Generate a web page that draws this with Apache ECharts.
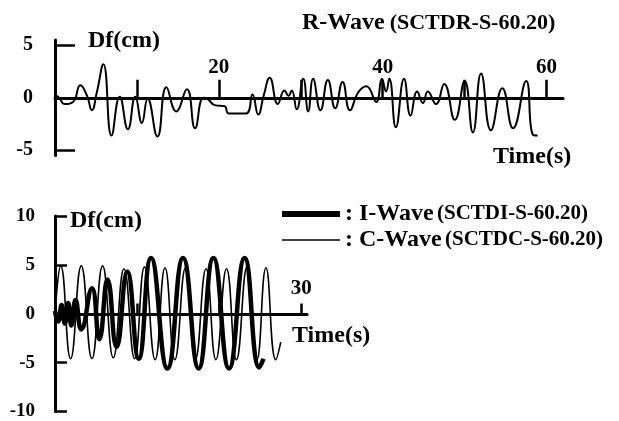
<!DOCTYPE html>
<html>
<head>
<meta charset="utf-8">
<script src="https://cdn.jsdelivr.net/npm/echarts@6/dist/echarts.min.js"></script>
<style>
  html, body { margin: 0; padding: 0; background: #fff; }
  #main { width: 619px; height: 421px; }
</style>
</head>
<body>
<div id="main"></div>
<script>
// R-Wave record (top panel), time in s and Df in cm
var rTime = [0, 0.5, 1.2, 2.2, 3.1, 3.9, 4.5, 5.1, 5.9, 6.9, 7.9, 8.9, 9.8, 10.6, 11.3, 12.5, 13.6, 14.8, 16.1, 17.1,
  18.1, 18.6, 19.5, 20.7, 21.2, 23.3, 24.1, 24.8, 25.5, 26.2, 27.2, 28.0, 28.5, 28.9, 29.5, 30.3, 30.9, 31.5, 32.4, 33.3,
  34.2, 35.1, 36.0, 37.0, 38.0, 39.2, 39.9, 40.4, 40.8, 41.6, 42.6, 43.4, 44.2, 44.9, 45.5, 46.5, 47.5, 48.8, 50.0, 51.0,
  52.0, 53.2, 54.6, 55.9, 57.5, 58.3, 58.9];
var rDf = [0.3, 0, -0.6, -0.4, 1.2, 0.2, -1.2, 0.5, 3.2, -3.6, 0.1, -3.0, 0.1, -2.4, -0.1, -3.7, 1.0, -1.3, 0.8, -2.9,
  0, -0.1, -0.7, -0.8, -1.5, -1.5, 0.3, -1.6, 0.3, 1.9, -0.6, 0.7, 0.2, 0.7, -1.1, 1.8, -1.3, 1.8, -1.2, 1.7,
  -1.0, 1.5, -1.2, 0.5, 1.1, -0.4, 1.8, 0.6, 1.8, -2.8, 1.8, -1.7, 0.6, -0.5, 0.6, -0.6, 1.3, -2.1, 1.6, -3.3,
  2.3, -3.1, 0.9, -2.9, 1.6, -3.5, -3.6];

// I-Wave (thick) and C-Wave (thin), bottom panel
var iTime = [0, 0.4, 0.8, 1.2, 1.6, 2.0, 2.5, 3.2, 4.5, 5.4, 6.4, 7.5, 8.8, 10.2, 11.7, 13.7, 15.6, 17.5, 19.3, 21.2, 23.1, 24.9, 25.4];
var iDf = [0.3, -0.8, 0.9, -1.0, 1.1, -1.2, 1.4, -1.6, 2.6, -2.6, 3.5, -3.4, 4.3, -4.6, 5.7, -5.6, 5.7, -5.6, 5.7, -5.6, 5.7, -5.5, -4.6];

var cTime = [0, 0.7, 1.9, 3.2, 4.5, 5.8, 7.1, 8.4, 9.7, 10.9, 12.2, 13.4, 14.6, 15.9, 17.1, 18.4, 19.6, 20.9, 22.1, 23.4, 24.6, 25.7, 26.9, 27.5];
var cDf = [0, 4.9, -4.6, 4.9, -4.6, 4.9, -4.5, 4.6, -4.6, 4.8, -4.7, 4.7, -4.7, 4.7, -4.7, 4.6, -4.7, 4.6, -4.7, 4.8, -4.7, 4.7, -4.7, -2.9];

var waveNames = ['I-Wave', 'C-Wave'];
var waveCodes = ['SCTDI-S-60.20', 'SCTDC-S-60.20'];

// ticks and labels
var topXTicks = [10, 20, 30, 40, 50, 60];
var topXLabels = [20, 40, 60];
var topYTicks = [-5, 5];
var topYLabels = [-5, 0, 5];
var botXTicks = [10, 20, 30];
var botXLabels = [30];
var botYTicks = [-10, -5, 5, 10];
var botYLabels = [-10, -5, 0, 5, 10];

function pairs(xs, ys) {
  return xs.map(function (x, i) { return [x, ys[i]]; });
}

var FONT = '"Liberation Serif", "Times New Roman", serif';
var axisTxt = { color: '#000', fontFamily: FONT, fontWeight: 'bold', fontSize: 20 };

var chart = echarts.init(document.getElementById('main'));
chart.setOption({
  backgroundColor: '#fff',
  animation: false,
  title: {
    left: 297, top: 6,
    text: '{a|R-Wave} {b|(SCTDR-S-60.20)}',
    textStyle: {
      rich: {
        a: { fontFamily: FONT, fontWeight: 'bold', fontSize: 24, color: '#000' },
        b: { fontFamily: FONT, fontWeight: 'bold', fontSize: 22, color: '#000' }
      }
    }
  },
  legend: {
    orient: 'vertical', left: 277, top: 197,
    itemWidth: 58, itemHeight: 14, itemGap: 2,
    symbolKeepAspect: true,
    data: [
      { name: waveNames[0], icon: 'path://M0,0H58V6H0Z' },
      { name: waveNames[1], icon: 'path://M0,0H58V1.6H0Z' }
    ],
    formatter: function (name) {
      return '{a|: ' + name + '} {b|(' + waveCodes[waveNames.indexOf(name)] + ')}';
    },
    textStyle: {
      rich: {
        a: { fontFamily: FONT, fontWeight: 'bold', fontSize: 24, color: '#000' },
        b: { fontFamily: FONT, fontWeight: 'bold', fontSize: 21, color: '#000' }
      }
    }
  },
  graphic: [
    { type: 'text', left: 88, top: 29, style: { text: 'Df(cm)', font: 'bold 24px ' + FONT, fill: '#000' } },
    { type: 'text', left: 493, top: 145, style: { text: 'Time(s)', font: 'bold 24px ' + FONT, fill: '#000' } },
    { type: 'text', left: 70, top: 209, style: { text: 'Df(cm)', font: 'bold 24px ' + FONT, fill: '#000' } },
    { type: 'text', left: 292, top: 324, style: { text: 'Time(s)', font: 'bold 24px ' + FONT, fill: '#000' } }
  ],
  grid: [
    { left: 55, top: 40, width: 508, height: 115.5 },
    { left: 55, top: 216, width: 252, height: 197 }
  ],
  xAxis: [
    {
      // drawn as a top axis, shifted down onto the zero line
      gridIndex: 0, type: 'value', min: 0, max: 62, position: 'top', offset: -57.75,
      axisLine: { onZero: false, lineStyle: { color: '#000', width: 3 } },
      axisTick: { inside: false, length: 18, customValues: topXTicks, lineStyle: { color: '#000', width: 2.5 } },
      axisLabel: Object.assign({ margin: 20, customValues: topXLabels }, axisTxt, { fontSize: 21 }),
      splitLine: { show: false }
    },
    {
      gridIndex: 1, type: 'value', min: 0, max: 30.7, position: 'top', offset: -98.5,
      axisLine: { onZero: false, lineStyle: { color: '#000', width: 3 } },
      axisTick: { inside: false, length: 11, customValues: botXTicks, lineStyle: { color: '#000', width: 2.5 } },
      axisLabel: Object.assign({ margin: 15, customValues: botXLabels }, axisTxt, { fontSize: 21 }),
      splitLine: { show: false }
    }
  ],
  yAxis: [
    {
      gridIndex: 0, type: 'value', min: -5.5, max: 5.5,
      axisLine: { show: true, onZero: false, lineStyle: { color: '#000', width: 3 } },
      axisTick: { show: true, inside: true, length: 20, customValues: topYTicks, lineStyle: { color: '#000', width: 2.5 } },
      axisLabel: Object.assign({ margin: 22, customValues: topYLabels }, axisTxt),
      splitLine: { show: false }
    },
    {
      gridIndex: 1, type: 'value', min: -10, max: 10,
      axisLine: { show: true, onZero: false, lineStyle: { color: '#000', width: 3 } },
      axisTick: { show: true, inside: true, length: 12, customValues: botYTicks, lineStyle: { color: '#000', width: 2.5 } },
      axisLabel: Object.assign({ margin: 20, customValues: botYLabels }, axisTxt, { fontSize: 19 }),
      splitLine: { show: false }
    }
  ],
  series: [
    {
      name: 'R-Wave', type: 'line', xAxisIndex: 0, yAxisIndex: 0,
      data: pairs(rTime, rDf), smooth: true, symbol: 'none',
      lineStyle: { color: '#000', width: 2 }
    },
    {
      name: 'C-Wave', type: 'line', xAxisIndex: 1, yAxisIndex: 1,
      data: pairs(cTime, cDf), smooth: true, symbol: 'none',
      lineStyle: { color: '#000', width: 1.6 }, itemStyle: { color: '#000' }
    },
    {
      name: 'I-Wave', type: 'line', xAxisIndex: 1, yAxisIndex: 1,
      data: pairs(iTime, iDf), smooth: true, symbol: 'none',
      lineStyle: { color: '#000', width: 4.5 }, itemStyle: { color: '#000' }
    }
  ]
});
</script>
</body>
</html>
